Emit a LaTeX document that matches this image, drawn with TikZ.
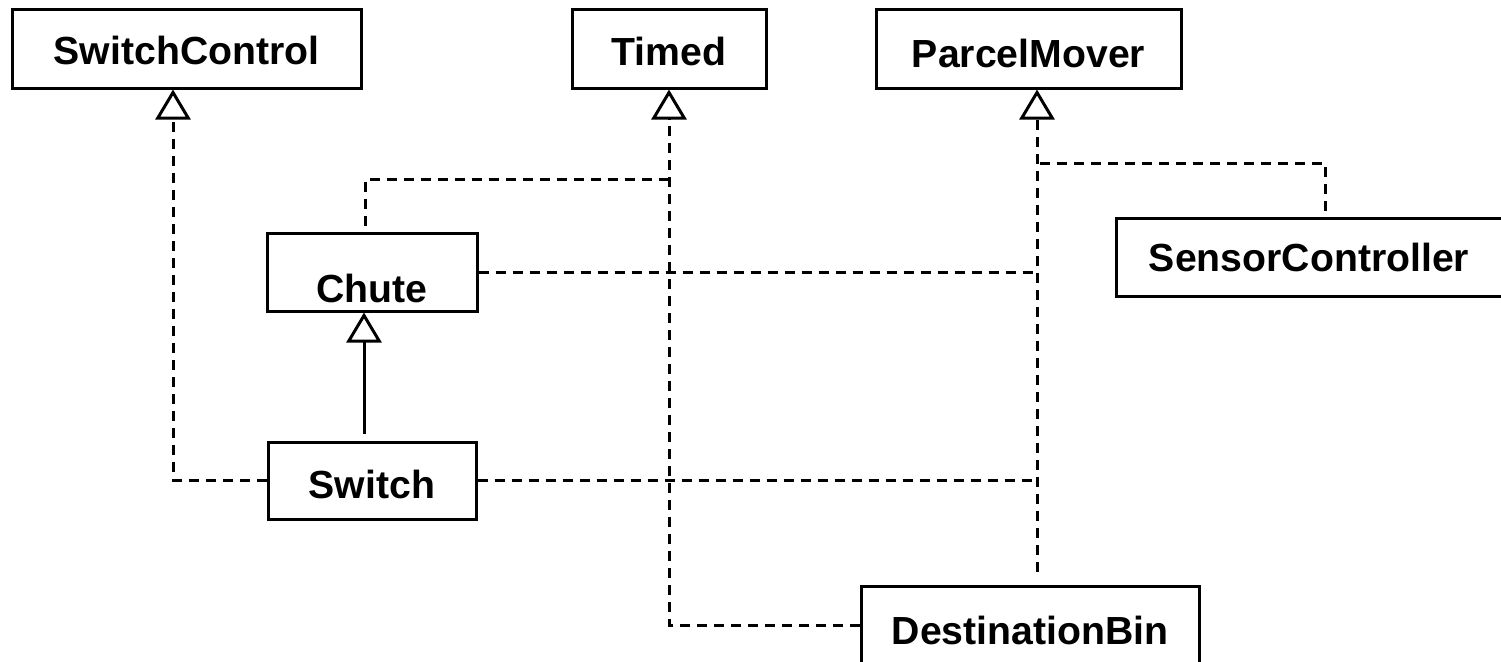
\documentclass[tikz,border=0pt]{standalone}
\usepackage{fontspec}
\setmainfont{Liberation Sans}
\usetikzlibrary{arrows.meta}
\begin{document}
\begin{tikzpicture}[x=1pt,y=-1pt,
  cls/.style={draw, line width=3pt, minimum height=78pt, inner sep=0pt,
    text depth=0pt, text height=30pt,
    font=\fontsize{39.2}{47}\selectfont\bfseries},
  realize/.style={line width=3pt, dash pattern=on 10pt off 7pt},
  inherit/.style={line width=3pt, line join=miter,
    -{Triangle[open, length=30pt, width=35pt]}}]
\useasboundingbox (0,0) rectangle (1501,661);

% classes and interfaces
\node[cls, minimum width=349pt] (sc) at (186.5,49) {SwitchControl};
\node[cls, minimum width=194pt, text height=33.6pt] (tm) at (669,49) {Timed};
\node[cls, minimum width=305pt, text height=36pt] (pm) at (1028.5,49) {ParcelMover};
\node[cls, minimum width=210pt, text height=61pt] (ch) at (372,272) {Chute};
\node[cls, minimum width=208pt, minimum height=77pt, text height=36pt] (sw) at (372,480.5) {Switch};
\node[cls, minimum width=386pt, text height=28pt] (sn) at (1309,257) {SensorController};
\node[cls, minimum width=338pt, minimum height=79pt, text height=37pt] (db) at (1030,625.5) {DestinationBin};

% junction points on the realization lines
\coordinate (pmx) at ([xshift=8.5pt]pm.south);
\coordinate (tmj) at (669,179);
\coordinate (pmj) at (1037,163);

% Switch realizes SwitchControl
\draw[realize, inherit] (sw.west) -| ([xshift=-13.5pt]sc.south);

% Timed realizations
\draw[realize, inherit] (db.west) -| (tm.south);
\draw[realize] ([xshift=-7pt,yshift=6pt]ch.north) |- (tmj);

% ParcelMover realizations
\draw[realize, inherit] ([xshift=7pt,yshift=13pt]db.north) -- (pmx);
\draw[realize] (ch.east) -- (ch.east -| pmx);
\draw[realize] (sw.east) -- (sw.east -| pmx);
\draw[realize] ([xshift=16pt,yshift=6pt]sn.north) |- (pmj);

% Switch extends Chute
\draw[inherit] ([xshift=-8pt,yshift=7pt]sw.north) -- ([xshift=-8pt]ch.south);
\end{tikzpicture}
\end{document}
